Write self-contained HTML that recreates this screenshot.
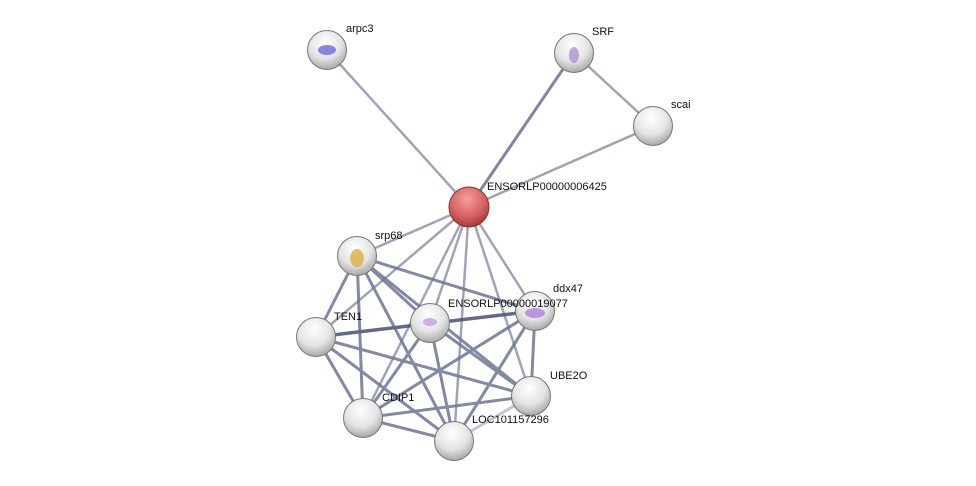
<!DOCTYPE html>
<html><head><meta charset="utf-8"><style>
html,body{margin:0;padding:0;background:#fff;width:976px;height:486px;overflow:hidden}
text{font-family:"Liberation Sans",sans-serif;font-size:11px;fill:#111}
</style></head><body>
<svg width="976" height="486" xmlns="http://www.w3.org/2000/svg">
<defs>
<radialGradient id="g" cx="45%" cy="30%" r="70%">
<stop offset="0" stop-color="#ffffff"/><stop offset="0.6" stop-color="#e4e4e4"/><stop offset="1" stop-color="#a8a8a8"/>
</radialGradient>
<radialGradient id="r" cx="45%" cy="30%" r="70%">
<stop offset="0" stop-color="#f2a0a0"/><stop offset="0.6" stop-color="#d96464"/><stop offset="1" stop-color="#a83a3a"/>
</radialGradient>
</defs>
<g stroke="#9aa0b4" stroke-width="2.5" opacity="0.95">
<line x1="469" y1="207" x2="327" y2="50"/>
<line x1="469" y1="207" x2="574" y2="53" stroke="#7a80a0" stroke-width="3"/>
<line x1="469" y1="207" x2="653" y2="126"/>
<line x1="574" y1="53" x2="653" y2="126"/>
<line x1="469" y1="207" x2="357" y2="256"/>
<line x1="469" y1="207" x2="316" y2="337"/>
<line x1="469" y1="207" x2="363" y2="418"/>
<line x1="469" y1="207" x2="430" y2="323"/>
<line x1="469" y1="207" x2="454" y2="441"/>
<line x1="469" y1="207" x2="531" y2="396"/>
<line x1="469" y1="207" x2="535" y2="311"/>
</g>
<g stroke="#6e7494" stroke-width="3" opacity="0.85">
<line x1="357" y1="256" x2="316" y2="337"/>
<line x1="357" y1="256" x2="363" y2="418"/>
<line x1="357" y1="256" x2="430" y2="323"/>
<line x1="357" y1="256" x2="535" y2="311"/>
<line x1="357" y1="256" x2="454" y2="441"/>
<line x1="357" y1="256" x2="531" y2="396"/>
<line x1="316" y1="337" x2="535" y2="311" stroke="#4a5078" stroke-width="3.5"/>
<line x1="316" y1="337" x2="363" y2="418"/>
<line x1="316" y1="337" x2="531" y2="396"/>
<line x1="316" y1="337" x2="454" y2="441"/>
<line x1="430" y1="323" x2="363" y2="418"/>
<line x1="430" y1="323" x2="454" y2="441"/>
<line x1="430" y1="323" x2="531" y2="396"/>
<line x1="535" y1="311" x2="363" y2="418"/>
<line x1="535" y1="311" x2="454" y2="441"/>
<line x1="535" y1="311" x2="531" y2="396"/>
<line x1="363" y1="418" x2="531" y2="396"/>
<line x1="363" y1="418" x2="454" y2="441"/>
<line x1="454" y1="441" x2="531" y2="396" stroke="#b8bccc"/>
</g>
<g stroke="#777" stroke-width="1">
<circle cx="327" cy="50" r="19.5" fill="url(#g)"/>
<circle cx="574" cy="53" r="19.5" fill="url(#g)"/>
<circle cx="653" cy="126" r="19.5" fill="url(#g)"/>
<circle cx="469" cy="207" r="20" fill="url(#r)" stroke="#8a3030"/>
<circle cx="357" cy="256" r="19.5" fill="url(#g)"/>
<circle cx="535" cy="311" r="19.5" fill="url(#g)"/>
<circle cx="430" cy="323" r="19.5" fill="url(#g)"/>
<circle cx="316" cy="337" r="19.5" fill="url(#g)"/>
<circle cx="531" cy="396" r="19.5" fill="url(#g)"/>
<circle cx="363" cy="418" r="19.5" fill="url(#g)"/>
<circle cx="454" cy="441" r="19.5" fill="url(#g)"/>
</g>
<g opacity="0.8">
<ellipse cx="327" cy="50" rx="9" ry="5" fill="#6a6ad8"/>
<ellipse cx="574" cy="55" rx="5" ry="8" fill="#b090d0"/>
<ellipse cx="357" cy="258" rx="7" ry="9" fill="#d8b040"/>
<ellipse cx="535" cy="313" rx="10" ry="5" fill="#b080e0"/>
<ellipse cx="430" cy="322" rx="7" ry="4" fill="#c0a0e0"/>
</g>
<text x="346" y="32">arpc3</text>
<text x="592" y="35">SRF</text>
<text x="671" y="108">scai</text>
<text x="487" y="190">ENSORLP00000006425</text>
<text x="375" y="239">srp68</text>
<text x="553" y="292">ddx47</text>
<text x="448" y="307">ENSORLP00000019077</text>
<text x="334" y="320">TEN1</text>
<text x="550" y="379">UBE2O</text>
<text x="382" y="401">CDIP1</text>
<text x="472" y="423">LOC101157296</text>
</svg>
</body></html>
